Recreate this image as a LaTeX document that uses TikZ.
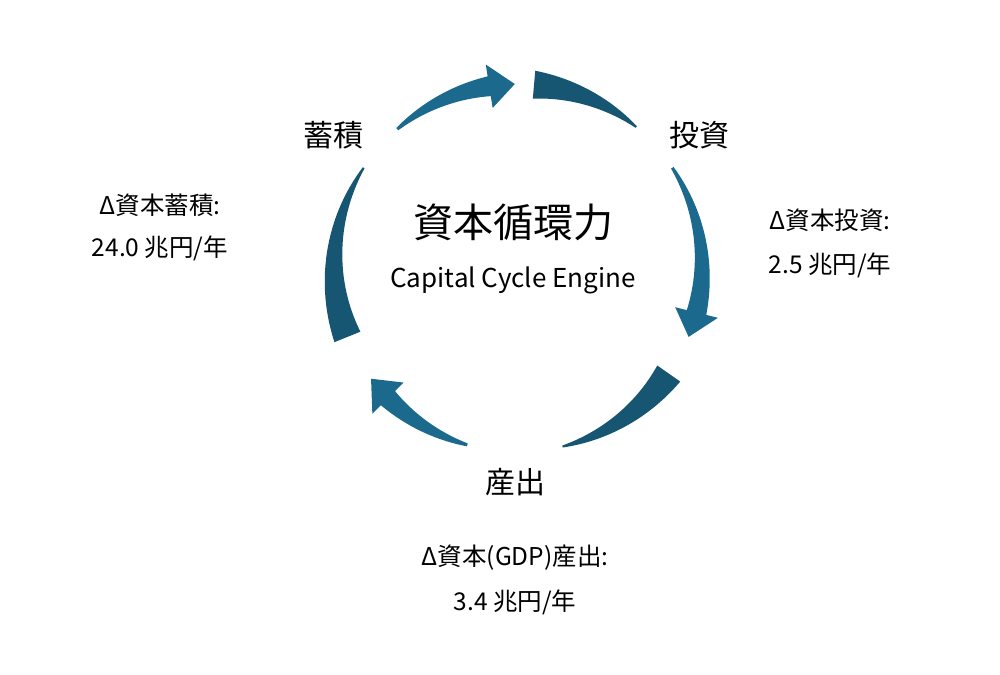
\documentclass[tikz,border=0pt]{standalone}
\usepackage{fontspec}
\setmainfont{Noto Sans CJK JP}
\definecolor{tailc}{HTML}{175672}
\definecolor{arrc}{HTML}{1B6A8E}
\newcommand\tailpiece[2]{%
\fill[tailc] plot[domain=#1:#2,samples=30] ({(184+(2+26*(\x-(#2))/((#1)-(#2)))/2)*cos(\x)},{(184+(2+26*(\x-(#2))/((#1)-(#2)))/2)*sin(\x)})
 -- plot[domain=#2:#1,samples=30] ({(184-(2+26*(\x-(#2))/((#1)-(#2)))/2)*cos(\x)},{(184-(2+26*(\x-(#2))/((#1)-(#2)))/2)*sin(\x)}) -- cycle;}
\newcommand\arrowpiece[3]{% start, head base, tip
\fill[arrc] plot[domain=#1:#2,samples=30] ({(184+(3+17*(\x-(#1))/((#2)-(#1)))/2)*cos(\x)},{(184+(3+17*(\x-(#1))/((#2)-(#1)))/2)*sin(\x)})
 -- ({206*cos(#2)},{206*sin(#2)}) -- ({184*cos(#3)},{184*sin(#3)}) -- ({162*cos(#2)},{162*sin(#2)})
 -- plot[domain=#2:#1,samples=30] ({(184-(3+17*(\x-(#1))/((#2)-(#1)))/2)*cos(\x)},{(184-(3+17*(\x-(#1))/((#2)-(#1)))/2)*sin(\x)}) -- cycle;}
\begin{document}
\begin{tikzpicture}[x=1pt,y=1pt,
  lab/.style={font=\fontsize{30}{32}\selectfont,inner sep=0},
  val/.style={font=\fontsize{24.5}{28}\selectfont,inner sep=0}]
\useasboundingbox (0,0) rectangle (1000,674);
\begin{scope}[shift={(518,406)}]
\tailpiece{85}{50}
\arrowpiece{33}{-14}{-22}
\tailpiece{-35}{-76}
\arrowpiece{-106}{-135}{-143}
\tailpiece{202}{147}
\arrowpiece{131}{99}{91}
\end{scope}
\node[lab] (acc) at (333,539) {蓄積};
\node[lab] (inv) at (699,539) {投資};
\node[lab] (out) at (515,192) {産出};
\node[font=\fontsize{40}{44}\selectfont,inner sep=0] (title) at (513,452) {資本循環力};
\node[font=\fontsize{26}{30}\selectfont,inner sep=0] (sub) at (513,394) {Capital Cycle Engine};
\node[val] (a1) at (160,469) {Δ資本蓄積:};
\node[val] (a2) at (160,426) {24.0 兆円/年};
\node[val] (b1) at (830,454) {Δ資本投資:};
\node[val] (b2) at (830,409) {2.5 兆円/年};
\node[val] (c1) at (515,116) {Δ資本(GDP)産出:};
\node[val] (c2) at (515,72) {3.4 兆円/年};
\end{tikzpicture}
\end{document}
